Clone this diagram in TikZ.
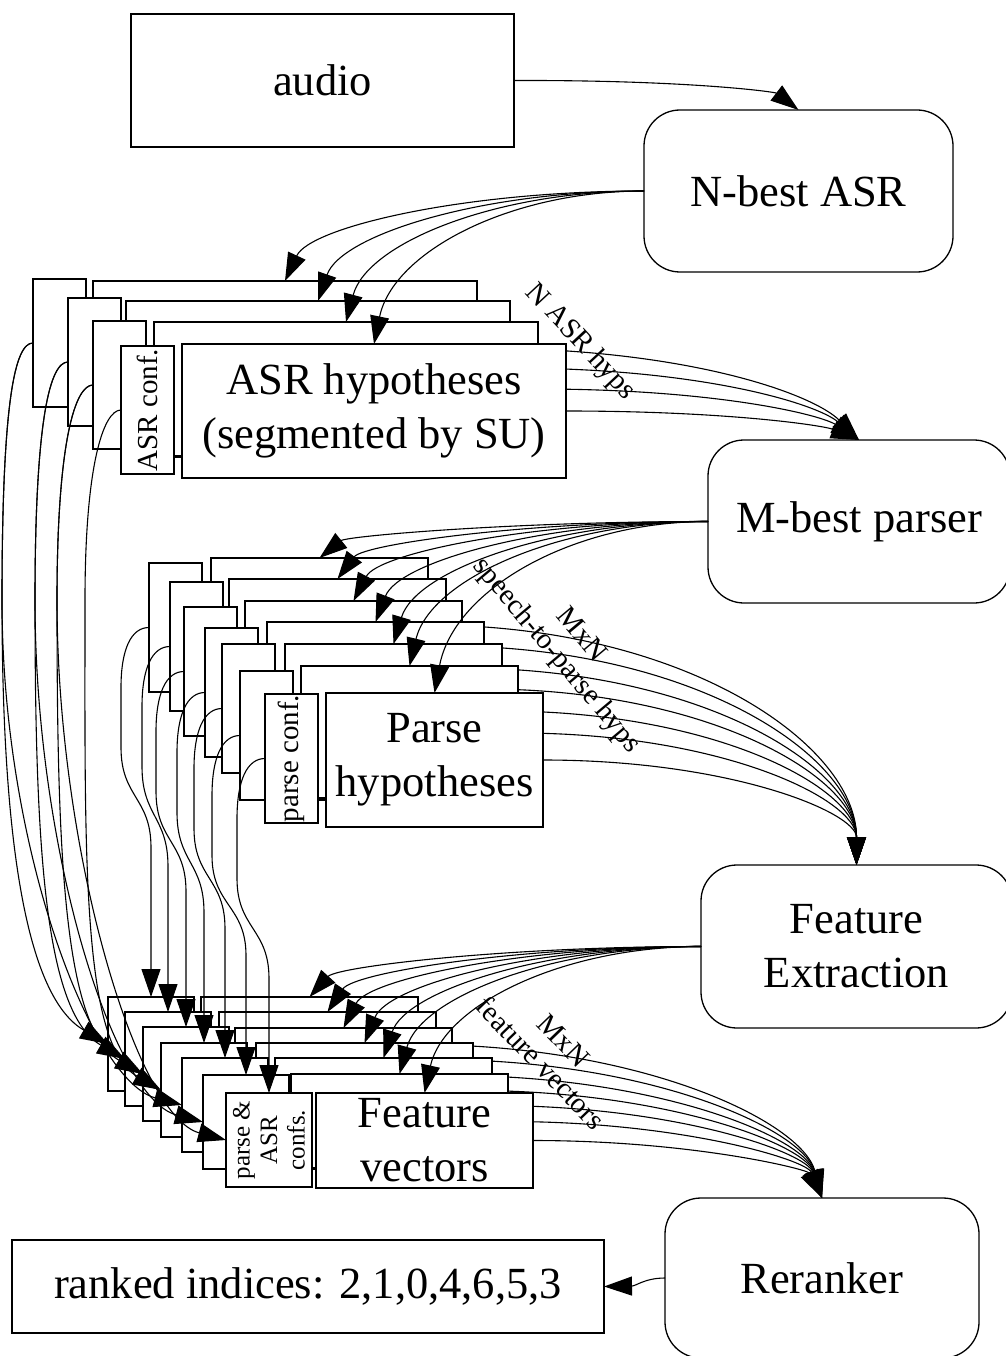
\documentclass[tikz,border=0pt]{standalone}
\usepackage{fontspec}
\setmainfont{Liberation Serif}
\usetikzlibrary{arrows.meta}
\newcommand\bigf{\fontsize{44.5}{54}\selectfont}
\newcommand\smallf{\fontsize{29}{32}\selectfont}
\newcommand\tinyf{\fontsize{25}{27.5}\selectfont}
\begin{document}
\begin{tikzpicture}[x=1pt,y=-1pt,
  box/.style={draw, line width=1.3pt, fill=white, inner sep=0pt, outer sep=0pt, anchor=north west},
  proc/.style={draw, line width=1.3pt, rounded corners=36pt, inner sep=0pt, outer sep=0pt, anchor=north west, font=\bigf, align=center},
  plainbox/.style={draw, line width=1.3pt, inner sep=0pt, outer sep=0pt, anchor=north west, font=\bigf},
  conn/.style={line width=1.1pt},
  arr/.style={line width=1.1pt, -{Triangle[length=28pt,width=19pt]}},
  lab/.style={font=\smallf, align=center, inner sep=0pt}
]
\useasboundingbox (0,0) rectangle (1005,1356);

% process boxes
\node[plainbox, minimum width=383pt, minimum height=133pt] (audio) at (131,14) {audio};
\node[proc, minimum width=309pt, minimum height=162pt] (nbest) at (644,110) {N-best ASR};
\node[proc, minimum width=302pt, minimum height=163pt] (mbest) at (708,440) {M-best parser};
\node[proc, minimum width=311pt, minimum height=163pt] (fext) at (701,865) {Feature\\Extraction};
\node[proc, minimum width=314pt, minimum height=160pt] (rer) at (665,1198) {Reranker};
\node[plainbox, minimum width=592pt, minimum height=93pt] (ranked) at (12,1240) {ranked indices: 2,1,0,4,6,5,3};

\draw[arr] (audio.east) .. controls (690,80) and (775,92) .. (nbest.north);

% ASR hypotheses stack
\foreach \i/\wa/\wb/\ca/\cb in {1/93/281/33/279, 2/126/301/68/298, 3/154/322/93/321, 4/182/344/121/346}{
  \node[box, minimum width=53pt, minimum height=128pt] (ac\i) at (\ca,\cb) {};
  \node[box, minimum width=384pt, minimum height=134pt] (aw\i) at (\wa,\wb) {};
  \draw[conn] ({\ca+53},{\wb+113}) -- (\wa,{\wb+113});
  \pgfmathsetmacro\mysx{\wa+384}
  \pgfmathsetmacro\mysy{\wb+67}
  \pgfmathsetmacro\myax{\mysx+0.55*(859-\mysx)}
  \pgfmathsetmacro\mybx{859-0.12*(859-\mysx)}
  \pgfmathsetmacro\myby{440-0.5*(440-\mysy)}
  \draw[arr] (aw\i.east) .. controls (\myax,\mysy) and (\mybx,\myby) .. (mbest.north);
}
\node[font=\bigf, align=center] (asrtext) at (aw4.center) {ASR hypotheses\\(segmented by SU)};
\node[font=\smallf, rotate=90, inner sep=0pt] (asrconf) at (ac4.center) {ASR conf.};
\foreach \i/\wa/\wb in {1/93/281, 2/126/301, 3/154/322, 4/182/344}{
  \pgfmathsetmacro\mytx{\wa+192}
  \pgfmathsetmacro\mydx{644-\mytx}
  \pgfmathsetmacro\mydy{\wb-191}
  \pgfmathsetmacro\myax{644-0.5*\mydx}
  \pgfmathsetmacro\mybx{\mytx+0.07*\mydx}
  \pgfmathsetmacro\myby{\wb-0.6*\mydy}
  \draw[arr] (nbest.west) .. controls (\myax,191) and (\mybx,\myby) .. (aw\i.north);
}

% Parse hypotheses stack
\foreach \i/\wa/\wb/\ca/\cb in {1/211/558/149/563, 2/229/579/170/582, 3/245/601/184/607, 4/267/622/205/628, 5/285/644/222/644, 6/301/666/240/671, 7/326/693/265/694}{
  \node[box, minimum width=53pt, minimum height=129pt] (pc\i) at (\ca,\cb) {};
  \node[box, minimum width=217pt, minimum height=134pt] (pw\i) at (\wa,\wb) {};
  \draw[conn] ({\ca+53},{\wb+105}) -- (\wa,{\wb+105});
  \pgfmathsetmacro\mysx{\wa+217}
  \pgfmathsetmacro\mysy{\wb+67}
  \pgfmathsetmacro\myax{\mysx+0.6*(856.5-\mysx)}
  \pgfmathsetmacro\myby{865-0.5*(865-\mysy)}
  \draw[arr] (pw\i.east) .. controls (\myax,\mysy) and (856.5,\myby) .. (fext.north);
}
\node[font=\bigf, align=center] (parsetext) at (pw7.center) {Parse\\hypotheses};
\node[font=\smallf, rotate=90, inner sep=0pt] (parseconf) at (pc7.center) {parse conf.};
\foreach \i/\wa/\wb in {1/211/558, 2/229/579, 3/245/601, 4/267/622, 5/285/644, 6/301/666, 7/326/693}{
  \pgfmathsetmacro\mytx{\wa+108.5}
  \pgfmathsetmacro\mydx{708-\mytx}
  \pgfmathsetmacro\mydy{\wb-521.5}
  \pgfmathsetmacro\myax{708-0.5*\mydx}
  \pgfmathsetmacro\mybx{\mytx+0.07*\mydx}
  \pgfmathsetmacro\myby{\wb-0.6*\mydy}
  \draw[arr] (mbest.west) .. controls (\myax,521.5) and (\mybx,\myby) .. (pw\i.north);
}

% Feature vectors stack
\foreach \i/\wa/\wb/\ca/\cb in {1/201/997/108/997, 2/219/1012/125/1012, 3/235/1028/143/1027, 4/256/1043/161/1043, 5/275/1058/182/1058, 6/291/1074/203/1075, 7/316/1093/226/1093}{
  \node[box, minimum width=86pt, minimum height=94pt] (fc\i) at (\ca,\cb) {};
  \node[box, minimum width=217pt, minimum height=95pt] (fw\i) at (\wa,\wb) {};
  \draw[conn] ({\ca+86},{\wb+75}) -- (\wa,{\wb+75});
  \pgfmathsetmacro\mysx{\wa+217}
  \pgfmathsetmacro\mysy{\wb+47.5}
  \pgfmathsetmacro\myax{\mysx+0.55*(822-\mysx)}
  \pgfmathsetmacro\mybx{822-0.05*(822-\mysx)}
  \pgfmathsetmacro\myby{1198-0.5*(1198-\mysy)}
  \draw[arr] (fw\i.east) .. controls (\myax,\mysy) and (\mybx,\myby) .. (rer.north);
}
\node[font=\bigf, align=center] (feattext) at (fw7.center) {Feature\\vectors};
\node[font=\tinyf, rotate=90, align=center, inner sep=0pt] (featconf) at (fc7.center) {parse \&\\ASR\\confs.};
\foreach \i/\wa/\wb in {1/201/997, 2/219/1012, 3/235/1028, 4/256/1043, 5/275/1058, 6/291/1074, 7/316/1093}{
  \pgfmathsetmacro\mytx{\wa+108.5}
  \pgfmathsetmacro\mydx{701-\mytx}
  \pgfmathsetmacro\mydy{\wb-946.5}
  \pgfmathsetmacro\myax{701-0.5*\mydx}
  \pgfmathsetmacro\mybx{\mytx+0.07*\mydx}
  \pgfmathsetmacro\myby{\wb-0.6*\mydy}
  \draw[arr] (fext.west) .. controls (\myax,946.5) and (\mybx,\myby) .. (fw\i.north);
}

% parse conf -> feature conf
\foreach \i/\ca/\cb/\fa in {1/149/563/151, 2/170/582/168, 3/184/607/186, 4/205/628/204, 5/222/644/225, 6/240/671/246, 7/265/694/269}{
  \pgfmathsetmacro\mysy{\cb+64.5}
  \pgfmathsetmacro\myX{\ca-28}
  \draw[arr] (pc\i.west) .. controls ({\ca-18},\mysy) and (\myX,{\mysy+22}) .. (\myX,{\mysy+60})
     -- (\myX,{\mysy+120}) .. controls (\myX,{\mysy+170}) and (\fa,{\mysy+170}) .. (\fa,{\mysy+220})
     -- (fc\i.north);
}

% ASR conf -> feature conf
\foreach \j/\i/\myX/\sxx/\syy/\txx/\tyy/\ox/\oy in {1/1/2/33/343/108/1044/80/46, 2/2/35/68/362/125/1059/80/46, 3/3/57/93/385/143/1074/80/46, 4/4/85/121/410/161/1090/80/46, 1/5/2/33/343/182/1105/90/24, 2/6/35/68/362/203/1122/90/24, 3/7/57/93/385/226/1140/90/24}{
  \draw[arr] (ac\j.west) .. controls ({\sxx-18},\syy) and (\myX,{\syy+57}) .. (\myX,600)
     .. controls (\myX,850) and ({\txx-\ox},{\tyy-\oy}) .. (fc\i.west);
}

\draw[arr] (rer.west) .. controls (645,1278) and (636,1286) .. (ranked.east);

% labels
\node[lab, rotate=-47] (lab1) at (580,342) {N ASR hyps};
\node[lab, rotate=-50] (lab2) at (568,646) {MxN\\speech-to-parse hyps};
\node[lab, rotate=-46] (lab3) at (552,1052) {MxN\\feature vectors};
\end{tikzpicture}
\end{document}
